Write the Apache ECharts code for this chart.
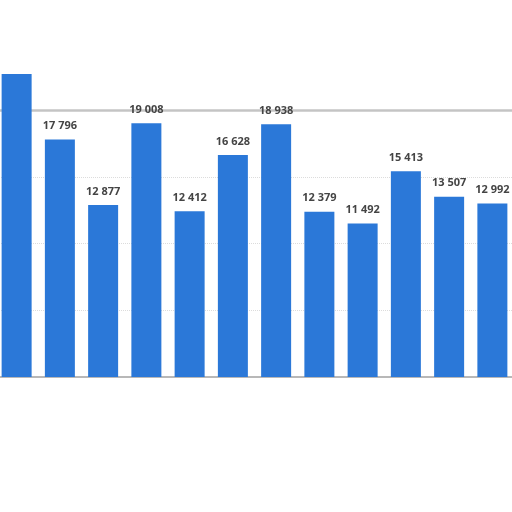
<!DOCTYPE html>
<html>
<head>
<meta charset="utf-8">
<style>
  html, body { margin: 0; padding: 0; background: #fff; overflow: hidden; }
  /* 图表比窗口略宽，左边第一根柱子被截掉一部分 */
  #chart { position: absolute; left: -5px; top: 0; width: 519px; height: 512px; }
</style>
<script src="https://cdn.jsdelivr.net/npm/echarts@6/dist/echarts.min.js"></script>
</head>
<body>
<div id="chart"></div>
<script>
// 分类（横轴无标签）
const categories = ['1', '2', '3', '4', '5', '6', '7', '8', '9', '10', '11', '12'];
// 柱子数值，第一根超出顶部
const values = [22700, 17796, 12877, 19008, 12412, 16628, 18938, 12379, 11492, 15413, 13507, 12992];
const yTicks = [0, 5000, 10000, 15000, 20000];

const barColor = '#2b78d8';

//千分位用空格
const fmt = v => String(v).replace(/\B(?=(\d{3})+(?!\d))/g, ' ');

const chart = echarts.init(document.getElementById('chart'), null, { renderer: 'canvas' });

const seriesData = values.map((v, i) => {
    if (i === 0) {
        return { value: v, label: { show: false } };
    }
    return v;
});

chart.setOption({
    animation: false,
    grid: {
        left: 0,
        right: 0,
        top: 110,
        bottom: 135,
        containLabel: false
    },
    xAxis: {
        type: 'category',
        data: categories,
        axisLine: { show: true, lineStyle: { color: '#b8b8b8', width: 2 } },
        axisTick: { show: false },
        axisLabel: { show: false }
    },
    yAxis: {
        type: 'value',
        min: yTicks[0],
        max: yTicks[yTicks.length - 1],
        interval: 5000,
        axisLine: { show: false },
        axisTick: { show: false },
        axisLabel: { show: false },
        splitLine: {
            show: true,
            lineStyle: { color: '#dcdcdc', type: 'dotted', width: 1 }
        }
    },
    series: [
        {
            //顶部灰线，放在柱子和数字下面
            type: 'line',
            data: [],
            z: 1,
            markLine: {
                silent: true,
                z: 1,
                symbol: 'none',
                label: { show: false },
                lineStyle: { color: '#c4c4c4', type: 'solid', width: 2.5 },
                data: [{ yAxis: 20000 }]
            }
        },
        {
            type: 'bar',
            data: seriesData,
            barWidth: 30,
            clip: false,
            z: 2,
            itemStyle: { color: barColor },
            label: {
                show: true,
                position: 'top',
                distance: 8,
                color: '#444',
                fontFamily: 'Open Sans',
                fontWeight: 'bold',
                fontSize: 11,
                formatter: p => fmt(p.value)
            }
        }
    ]
});
</script>
</body>
</html>
